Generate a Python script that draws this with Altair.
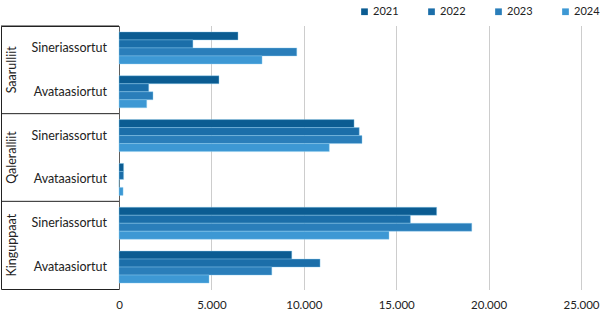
import altair as alt
import pandas as pd

groups = ["Saarulliit", "Qaleralliit", "Kinguppaat"]
subs = ["Sineriassortut", "Avataasiortut"]
years = ["2021", "2022", "2023", "2024"]

# rows: Saarulliit Sin, Saarulliit Avat, Qaleralliit Sin, Qaleralliit Avat, Kinguppaat Sin, Kinguppaat Avat
v2021 = [6440, 5410, 12720, 250, 17190, 9350]
v2022 = [4000, 1610, 13000, 250, 15770, 10880]
v2023 = [9620, 1840, 13150, 0, 19090, 8270]
v2024 = [7740, 1500, 11380, 220, 14610, 4870]

colors = ["#0b5c92", "#1b6ea9", "#2a7eba", "#3d98d4"]
tick_values = [0, 5000, 10000, 15000, 20000, 25000]

FONT = "Lato"

keys = [f"{g}|{s}" for g in groups for s in subs]
series = {"2021": v2021, "2022": v2022, "2023": v2023, "2024": v2024}
rows = []
for y in years:
    for k, v in zip(keys, series[y]):
        rows.append({"key": k, "year": y, "value": v})
df = pd.DataFrame(rows)

left_rows = []
for g in groups:
    for s in subs:
        left_rows.append({"group": g, "sub": s, "key": f"{g}|{s}"})
dfl = pd.DataFrame(left_rows)

H = 263

bars = alt.Chart(df).mark_bar(stroke="#8fd0f0", strokeWidth=0.4).encode(
    x=alt.X("value:Q",
            scale=alt.Scale(domain=[0, 25000], nice=False),
            axis=alt.Axis(values=tick_values, grid=True, gridColor="#9a9a9a",
                          gridDash=[1, 1], gridWidth=1, domain=False, ticks=False,
                          labelFlush=False, labelOverlap=False,
                          labelPadding=10, labelFontSize=11.5, labelFont=FONT,
                          labelColor="#222222", title=None,
                          labelExpr="replace(format(datum.value, ',.0f'), ',', '.')")),
    y=alt.Y("key:N", sort=keys, axis=None,
            scale=alt.Scale(paddingInner=0.27, paddingOuter=0.135)),
    yOffset=alt.YOffset("year:N", sort=years, scale=alt.Scale(paddingInner=0, paddingOuter=0)),
    color=alt.Color("year:N", sort=years,
                    scale=alt.Scale(domain=years, range=colors),
                    legend=alt.Legend(orient="none", direction="horizontal",
                                      legendX=358, legendY=-20, title=None,
                                      symbolType="square", symbolSize=45,
                                      symbolStrokeWidth=0,
                                      labelFontSize=11, labelFont=FONT,
                                      labelColor="#222222", columnPadding=27,
                                      labelOffset=3)),
).properties(width=462, height=H, view=alt.ViewBackground(stroke=None))

group_text = alt.Chart(dfl).transform_aggregate(
    n="count()", groupby=["group"]
).mark_text(angle=270, fontSize=12.5, font=FONT, color="#222222",
            align="center", baseline="middle").encode(
    y=alt.Y("group:N", sort=groups, axis=None,
            scale=alt.Scale(paddingInner=0, paddingOuter=0)),
    x=alt.value(11),
    text="group:N",
)

dividers = alt.Chart(dfl).transform_aggregate(
    n="count()", groupby=["group"]
).mark_rule(color="#222222", strokeWidth=1).encode(
    y=alt.Y("group:N", sort=groups, axis=None, bandPosition=0,
            scale=alt.Scale(paddingInner=0, paddingOuter=0)),
    x=alt.value(0),
    x2=alt.value(118),
)

sub_text = alt.Chart(dfl).mark_text(fontSize=12.5, font=FONT, color="#222222",
                                    align="right", baseline="middle").encode(
    y=alt.Y("key:N", sort=keys, axis=None,
            scale=alt.Scale(paddingInner=0.27, paddingOuter=0.135)),
    x=alt.value(106),
    text="sub:N",
)

left = alt.layer(dividers, group_text, sub_text).resolve_scale(y="independent").properties(
    width=118, height=H,
    view=alt.ViewBackground(stroke="#222222", strokeWidth=1)
)

chart = alt.hconcat(left, bars, spacing=0, bounds="flush").properties(
    padding={"left": 0, "top": 6, "right": 5, "bottom": 5},
    background="white"
).configure_view(stroke=None)

chart.save("out.html", embed_options={"renderer": "svg", "actions": False})
